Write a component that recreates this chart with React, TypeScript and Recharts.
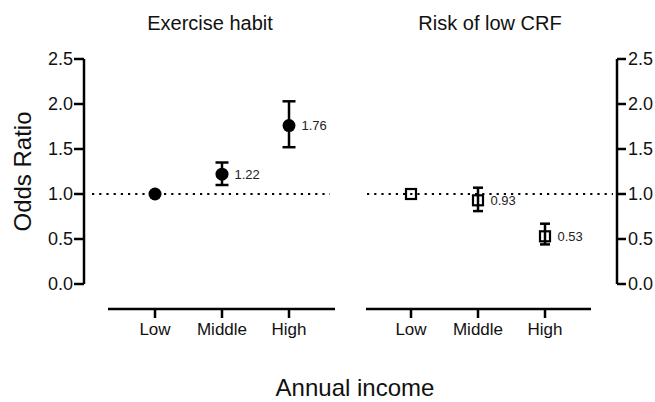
import {
  ComposedChart,
  Scatter,
  XAxis,
  YAxis,
  ZAxis,
  ErrorBar,
  ReferenceLine,
  LabelList,
} from "recharts";

// income groups and odds ratios (with 95% CI)
const categories = ["Low", "Middle", "High"];
const habitOR = [1.0, 1.22, 1.76];
const habitLow = [null, 1.1, 1.52];
const habitHigh = [null, 1.35, 2.03];
const crfOR = [1.0, 0.93, 0.53];
const crfLow = [null, 0.81, 0.44];
const crfHigh = [null, 1.07, 0.67];
const yTicks = [0, 0.5, 1, 1.5, 2, 2.5];
const refOR = 1;

const panelTitles = ["Exercise habit", "Risk of low CRF"];
const xTitle = "Annual income";
const yTitle = "Odds Ratio";

// layout (pixels)
const W = 655;
const H = 402;
const PLOT_TOP = 59;
const PLOT_BOTTOM = 284;
const AXIS_L = 84;
const AXIS_R = 617;
const STEP = 67;
const LEFT_FIRST = 155;
const RIGHT_FIRST = 411;
const X_LINE_Y = 309;
const X_AXIS_H = 60;
const FONT = '"Liberation Sans", Arial, Helvetica, sans-serif';

const toPos = (px: number, first: number) => (px - first) / STEP + 1;
const dom = (l: number, r: number, first: number) => [toPos(l, first), toPos(r, first)];

type Num = number | null;

function buildRows(or: number[], lo: Num[], hi: Num[]) {
  return categories.map((c, i) => ({
    pos: i + 1,
    name: c,
    value: or[i],
    err: lo[i] == null || hi[i] == null ? null : [or[i] - (lo[i] as number), (hi[i] as number) - or[i]],
    tag: lo[i] == null ? "" : or[i].toFixed(2),
  }));
}

const habitRows = buildRows(habitOR, habitLow, habitHigh);
const crfRows = buildRows(crfOR, crfLow, crfHigh);

const axisStroke = { stroke: "#000", strokeWidth: 2.5 };

const Dot = (p: any) => <circle cx={p.cx} cy={p.cy} r={6.5} fill="#000" />;
const Box = (p: any) => (
  <rect x={p.cx - 5} y={p.cy - 5} width={10} height={10} fill="none" stroke="#000" strokeWidth={2.2} />
);

function IncomeAxis({ first, left, right }: { first: number; left: number; right: number }) {
  return (
    <div style={{ position: "absolute", left: 0, top: 0 }}>
      <ComposedChart
        width={W}
        height={H}
        data={habitRows}
        margin={{ top: PLOT_TOP, left, right: W - right, bottom: H - X_LINE_Y - X_AXIS_H }}
      >
        <XAxis
          dataKey="pos"
          type="number"
          domain={dom(left, right, first)}
          allowDataOverflow
          ticks={[1, 2, 3]}
          interval={0}
          tickFormatter={(v) => categories[v - 1]}
          height={X_AXIS_H}
          tickSize={9}
          tickMargin={5}
          axisLine={axisStroke}
          tickLine={axisStroke}
          tick={{ fontSize: 17, fill: "#111", fontFamily: FONT }}
        />
        <YAxis hide width={0} domain={[0, 1]} />
      </ComposedChart>
    </div>
  );
}

export default function App() {
  const yTick = { fontSize: 18, fill: "#111", fontFamily: FONT };
  return (
    <div style={{ position: "relative", width: W, height: H, fontFamily: FONT, background: "#fff" }}>
      <style>{"body{margin:0}"}</style>
      <div style={{ position: "absolute", left: 0, top: 0 }}>
        <ComposedChart
          width={W}
          height={H}
          margin={{ top: PLOT_TOP, bottom: H - PLOT_BOTTOM, left: 0, right: 0 }}
        >
          <XAxis xAxisId="L" dataKey="pos" type="number" domain={dom(AXIS_L, AXIS_R, LEFT_FIRST)} allowDataOverflow hide height={0} />
          <XAxis xAxisId="R" dataKey="pos" type="number" domain={dom(AXIS_L, AXIS_R, RIGHT_FIRST)} allowDataOverflow hide height={0} />
          <YAxis
            yAxisId="L"
            orientation="left"
            width={AXIS_L}
            domain={[0, 2.5]}
            ticks={yTicks}
            interval={0}
            tickFormatter={(v) => v.toFixed(1)}
            tickSize={10}
            tickMargin={1}
            axisLine={axisStroke}
            tickLine={axisStroke}
            tick={yTick}
            label={{
              content: (p: any) => {
                const vb = p.viewBox || {};
                const x = (vb.x ?? 0) + 22;
                const y = (PLOT_TOP + PLOT_BOTTOM) / 2;
                return (
                  <text
                    x={x}
                    y={y}
                    transform={`rotate(-90, ${x}, ${y})`}
                    textAnchor="middle"
                    dominantBaseline="central"
                    fontSize={24}
                    fill="#111"
                    fontFamily={FONT}
                  >
                    {yTitle}
                  </text>
                );
              },
            }}
          />
          <YAxis
            yAxisId="R"
            orientation="right"
            width={W - AXIS_R}
            domain={[0, 2.5]}
            ticks={yTicks}
            interval={0}
            tickFormatter={(v) => v.toFixed(1)}
            tickSize={9}
            tickMargin={2}
            axisLine={axisStroke}
            tickLine={axisStroke}
            tick={yTick}
          />
          <ZAxis range={[130, 130]} />
          <ReferenceLine
            xAxisId="L"
            yAxisId="L"
            segment={[
              { x: toPos(92, LEFT_FIRST), y: refOR },
              { x: toPos(330, LEFT_FIRST), y: refOR },
            ]}
            stroke="#000"
            strokeWidth={2.2}
            strokeDasharray="2.2 5"
          />
          <ReferenceLine
            xAxisId="R"
            yAxisId="R"
            segment={[
              { x: toPos(367, RIGHT_FIRST), y: refOR },
              { x: toPos(613, RIGHT_FIRST), y: refOR },
            ]}
            stroke="#000"
            strokeWidth={2.2}
            strokeDasharray="2.2 5"
          />
          <Scatter xAxisId="L" yAxisId="L" data={habitRows} dataKey="value" shape={Dot} isAnimationActive={false}>
            <ErrorBar dataKey="err" direction="y" width={6.5} stroke="#000" strokeWidth={2.5} />
            <LabelList dataKey="tag" position="right" offset={6} fontSize={13} fill="#222" fontFamily={FONT} />
          </Scatter>
          <Scatter xAxisId="R" yAxisId="R" data={crfRows} dataKey="value" shape={Box} isAnimationActive={false}>
            <ErrorBar dataKey="err" direction="y" width={5} stroke="#000" strokeWidth={2.5} />
            <LabelList dataKey="tag" position="right" offset={6} fontSize={13} fill="#222" fontFamily={FONT} />
          </Scatter>
        </ComposedChart>
      </div>
      <IncomeAxis first={LEFT_FIRST} left={108} right={335} />
      <IncomeAxis first={RIGHT_FIRST} left={366} right={591} />
      <svg width={W} height={H} style={{ position: "absolute", left: 0, top: 0, pointerEvents: "none" }}>
        <text x={210} y={30} textAnchor="middle" fontSize={20} fill="#111" fontFamily={FONT}>
          {panelTitles[0]}
        </text>
        <text x={490} y={30} textAnchor="middle" fontSize={20} fill="#111" fontFamily={FONT}>
          {panelTitles[1]}
        </text>
        <text x={355} y={396} textAnchor="middle" fontSize={24} fill="#111" fontFamily={FONT}>
          {xTitle}
        </text>
      </svg>
    </div>
  );
}
